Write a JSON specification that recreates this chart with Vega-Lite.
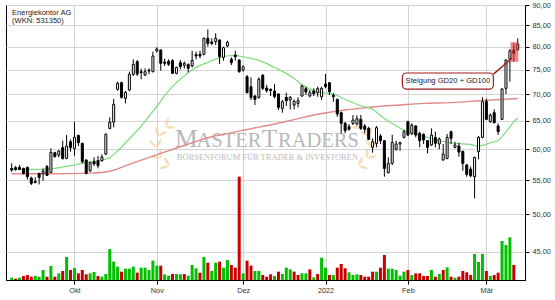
{
"$schema": "https://vega.github.io/schema/vega-lite/v6.json",
"width": 519, "height": 275,
"autosize": {"type": "none"},
"padding": {"left": 6, "top": 5, "right": 30, "bottom": 20},
"background": "white",
"config": {
  "view": {"stroke": "#000", "strokeWidth": 1},
  "axis": {"labelFont": "Liberation Sans", "labelFontSize": 7.3, "labelColor": "#333", "gridColor": "#d4d4d4", "gridWidth": 1, "tickColor": "#000", "tickSize": 4, "domainColor": "#000", "title": null, "labelFlush": false, "labelBound": false, "labelOverlap": false}
},
"datasets": {
"k": [
{"i":0,"o":56.85,"h":57.66,"l":56.32,"c":56.58,"v":7,"vd":"up"},
{"i":1,"o":56.97,"h":57.24,"l":56.48,"c":56.69,"v":4,"vd":"down"},
{"i":2,"o":57.02,"h":57.40,"l":56.58,"c":56.69,"v":7,"vd":"up"},
{"i":3,"o":56.85,"h":56.96,"l":55.9,"c":56.06,"v":12,"vd":"down"},
{"i":4,"o":57.02,"h":57.13,"l":55.12,"c":55.54,"v":15,"vd":"down"},
{"i":5,"o":55.33,"h":55.54,"l":54.25,"c":54.51,"v":10,"vd":"down"},
{"i":6,"o":54.8,"h":55.43,"l":54.51,"c":54.65,"v":12,"vd":"up"},
{"i":7,"o":56.06,"h":56.16,"l":54.35,"c":55.43,"v":10,"vd":"up"},
{"i":8,"o":56.06,"h":56.85,"l":54.92,"c":56.42,"v":30,"vd":"up"},
{"i":9,"o":57.13,"h":57.40,"l":55.64,"c":55.74,"v":10,"vd":"down"},
{"i":10,"o":56.2,"h":60.15,"l":56.16,"c":59.47,"v":42,"vd":"up"},
{"i":11,"o":59.41,"h":59.58,"l":58.64,"c":58.75,"v":10,"vd":"down"},
{"i":12,"o":59.02,"h":59.87,"l":58.64,"c":59.70,"v":20,"vd":"up"},
{"i":13,"o":60.26,"h":61.46,"l":58.32,"c":58.42,"v":27,"vd":"down"},
{"i":14,"o":58.48,"h":62.44,"l":58.32,"c":60.54,"v":69,"vd":"up"},
{"i":15,"o":61.28,"h":61.69,"l":59.58,"c":60.26,"v":30,"vd":"down"},
{"i":16,"o":60.15,"h":64.82,"l":58.91,"c":62.03,"v":36,"vd":"up"},
{"i":17,"o":62.38,"h":62.5,"l":60.54,"c":61.11,"v":20,"vd":"down"},
{"i":18,"o":61.0,"h":61.11,"l":57.66,"c":57.94,"v":30,"vd":"down"},
{"i":19,"o":58.21,"h":58.32,"l":55.9,"c":56.06,"v":17,"vd":"down"},
{"i":20,"o":56.48,"h":57.94,"l":56.26,"c":57.77,"v":20,"vd":"up"},
{"i":21,"o":57.94,"h":58.64,"l":57.24,"c":57.56,"v":24,"vd":"up"},
{"i":22,"o":58.1,"h":58.86,"l":56.85,"c":57.29,"v":12,"vd":"down"},
{"i":23,"o":58.1,"h":59.13,"l":57.94,"c":58.7,"v":10,"vd":"up"},
{"i":24,"o":59.19,"h":62.74,"l":59.02,"c":62.56,"v":18,"vd":"up"},
{"i":25,"o":63.62,"h":65.62,"l":63.45,"c":64.76,"v":93,"vd":"up"},
{"i":26,"o":64.76,"h":69.09,"l":63.8,"c":68.06,"v":55,"vd":"up"},
{"i":27,"o":71.0,"h":72.55,"l":70.74,"c":72.21,"v":40,"vd":"up"},
{"i":28,"o":72.35,"h":72.55,"l":69.16,"c":69.42,"v":25,"vd":"down"},
{"i":29,"o":69.22,"h":70.67,"l":68.25,"c":70.41,"v":34,"vd":"up"},
{"i":30,"o":70.87,"h":74.61,"l":70.61,"c":74.06,"v":34,"vd":"up"},
{"i":31,"o":74.06,"h":77.25,"l":73.71,"c":76.17,"v":40,"vd":"up"},
{"i":32,"o":76.75,"h":77.1,"l":73.71,"c":74.13,"v":22,"vd":"down"},
{"i":33,"o":74.61,"h":75.25,"l":73.03,"c":74.41,"v":37,"vd":"up"},
{"i":34,"o":73.92,"h":75.32,"l":73.71,"c":74.61,"v":37,"vd":"up"},
{"i":35,"o":74.75,"h":75.32,"l":74.13,"c":74.96,"v":30,"vd":"up"},
{"i":36,"o":74.61,"h":78.93,"l":74.48,"c":77.98,"v":58,"vd":"up"},
{"i":37,"o":79.08,"h":79.9,"l":78.78,"c":79.52,"v":43,"vd":"up"},
{"i":38,"o":79.3,"h":79.45,"l":74.82,"c":76.39,"v":43,"vd":"down"},
{"i":39,"o":76.67,"h":77.39,"l":75.82,"c":76.39,"v":17,"vd":"up"},
{"i":40,"o":76.81,"h":77.25,"l":75.82,"c":76.17,"v":13,"vd":"up"},
{"i":41,"o":76.96,"h":77.25,"l":74.13,"c":74.27,"v":18,"vd":"down"},
{"i":42,"o":74.27,"h":75.67,"l":74.06,"c":75.53,"v":18,"vd":"up"},
{"i":43,"o":76.53,"h":77.1,"l":75.1,"c":75.67,"v":17,"vd":"up"},
{"i":44,"o":75.96,"h":76.81,"l":75.25,"c":76.39,"v":18,"vd":"down"},
{"i":45,"o":76.1,"h":76.39,"l":74.48,"c":75.32,"v":13,"vd":"up"},
{"i":46,"o":75.82,"h":79.15,"l":75.53,"c":77.03,"v":45,"vd":"up"},
{"i":47,"o":78.27,"h":78.93,"l":77.25,"c":77.98,"v":35,"vd":"up"},
{"i":48,"o":78.34,"h":79.15,"l":77.47,"c":77.98,"v":22,"vd":"down"},
{"i":49,"o":78.34,"h":82.18,"l":78.12,"c":81.95,"v":69,"vd":"up"},
{"i":50,"o":81.95,"h":84.05,"l":80.05,"c":80.8,"v":52,"vd":"down"},
{"i":51,"o":81.1,"h":81.95,"l":80.42,"c":80.8,"v":27,"vd":"up"},
{"i":52,"o":81.18,"h":83.11,"l":80.42,"c":81.95,"v":52,"vd":"up"},
{"i":53,"o":81.56,"h":81.72,"l":76.24,"c":77.83,"v":55,"vd":"down"},
{"i":54,"o":77.69,"h":80.05,"l":76.96,"c":79.82,"v":37,"vd":"up"},
{"i":55,"o":80.2,"h":81.41,"l":79.9,"c":81.03,"v":60,"vd":"up"},
{"i":56,"o":77.25,"h":77.69,"l":76.03,"c":76.53,"v":45,"vd":"down"},
{"i":57,"o":78.2,"h":79.15,"l":76.96,"c":77.83,"v":37,"vd":"down"},
{"i":58,"o":77.1,"h":77.25,"l":74.41,"c":74.61,"v":310,"vd":"down"},
{"i":59,"o":74.96,"h":75.96,"l":74.61,"c":75.67,"v":20,"vd":"up"},
{"i":60,"o":73.57,"h":73.92,"l":70.21,"c":70.34,"v":58,"vd":"down"},
{"i":61,"o":71.53,"h":73.44,"l":68.9,"c":69.42,"v":43,"vd":"down"},
{"i":62,"o":69.68,"h":69.88,"l":67.93,"c":69.03,"v":27,"vd":"up"},
{"i":63,"o":69.42,"h":73.44,"l":69.16,"c":73.03,"v":27,"vd":"up"},
{"i":64,"o":73.85,"h":74.13,"l":70.87,"c":71.2,"v":15,"vd":"down"},
{"i":65,"o":71.27,"h":71.87,"l":70.34,"c":70.74,"v":10,"vd":"down"},
{"i":66,"o":71.0,"h":71.2,"l":69.68,"c":70.74,"v":17,"vd":"down"},
{"i":67,"o":70.67,"h":72.07,"l":69.22,"c":69.55,"v":12,"vd":"up"},
{"i":68,"o":70.08,"h":70.21,"l":66.99,"c":67.49,"v":25,"vd":"down"},
{"i":69,"o":67.3,"h":68.9,"l":66.49,"c":68.57,"v":18,"vd":"up"},
{"i":70,"o":69.42,"h":70.34,"l":67.74,"c":68.77,"v":37,"vd":"up"},
{"i":71,"o":68.9,"h":69.68,"l":67.11,"c":69.42,"v":32,"vd":"up"},
{"i":72,"o":67.93,"h":69.03,"l":67.11,"c":68.64,"v":25,"vd":"down"},
{"i":73,"o":68.25,"h":69.42,"l":67.49,"c":68.77,"v":15,"vd":"down"},
{"i":74,"o":69.68,"h":71.94,"l":69.55,"c":71.67,"v":20,"vd":"up"},
{"i":75,"o":71.13,"h":71.53,"l":69.88,"c":70.47,"v":20,"vd":"up"},
{"i":76,"o":69.68,"h":70.87,"l":69.42,"c":70.34,"v":32,"vd":"down"},
{"i":77,"o":70.67,"h":71.2,"l":69.68,"c":70.14,"v":8,"vd":"up"},
{"i":78,"o":70.34,"h":71.53,"l":69.55,"c":71.13,"v":18,"vd":"down"},
{"i":79,"o":69.55,"h":71.53,"l":68.9,"c":71.2,"v":67,"vd":"up"},
{"i":80,"o":72.07,"h":74.13,"l":71.2,"c":71.53,"v":37,"vd":"up"},
{"i":81,"o":72.35,"h":72.48,"l":69.88,"c":70.54,"v":15,"vd":"down"},
{"i":82,"o":69.81,"h":70.21,"l":68.57,"c":69.55,"v":15,"vd":"up"},
{"i":83,"o":69.03,"h":69.16,"l":65.74,"c":66.24,"v":37,"vd":"down"},
{"i":84,"o":66.49,"h":66.68,"l":62.74,"c":64.52,"v":48,"vd":"down"},
{"i":85,"o":64.52,"h":64.82,"l":62.74,"c":63.21,"v":35,"vd":"down"},
{"i":86,"o":63.92,"h":64.4,"l":63.21,"c":63.45,"v":23,"vd":"up"},
{"i":87,"o":64.52,"h":66.05,"l":64.22,"c":65.13,"v":15,"vd":"up"},
{"i":88,"o":64.4,"h":65.99,"l":64.16,"c":65.37,"v":17,"vd":"up"},
{"i":89,"o":65.25,"h":66.05,"l":63.33,"c":63.62,"v":15,"vd":"down"},
{"i":90,"o":64.04,"h":64.4,"l":62.74,"c":63.45,"v":10,"vd":"down"},
{"i":91,"o":63.62,"h":63.92,"l":61.57,"c":61.69,"v":10,"vd":"down"},
{"i":92,"o":60.32,"h":61.86,"l":59.41,"c":61.28,"v":25,"vd":"down"},
{"i":93,"o":61.0,"h":64.04,"l":60.32,"c":63.74,"v":25,"vd":"up"},
{"i":94,"o":62.27,"h":62.62,"l":60.89,"c":61.46,"v":37,"vd":"down"},
{"i":95,"o":61.46,"h":61.57,"l":55.54,"c":56.85,"v":75,"vd":"down"},
{"i":96,"o":56.16,"h":58.64,"l":56.06,"c":57.66,"v":34,"vd":"up"},
{"i":97,"o":57.66,"h":62.5,"l":57.4,"c":61.17,"v":34,"vd":"up"},
{"i":98,"o":59.98,"h":61.46,"l":59.75,"c":60.89,"v":30,"vd":"up"},
{"i":99,"o":60.89,"h":61.28,"l":59.75,"c":61.11,"v":13,"vd":"up"},
{"i":100,"o":62.03,"h":63.33,"l":61.86,"c":63.03,"v":25,"vd":"up"},
{"i":101,"o":64.82,"h":65.0,"l":62.27,"c":62.44,"v":30,"vd":"down"},
{"i":102,"o":62.74,"h":64.52,"l":62.44,"c":64.22,"v":15,"vd":"up"},
{"i":103,"o":64.04,"h":64.22,"l":62.03,"c":62.44,"v":20,"vd":"down"},
{"i":104,"o":62.74,"h":63.03,"l":60.32,"c":61.46,"v":20,"vd":"down"},
{"i":105,"o":62.56,"h":62.74,"l":60.89,"c":61.57,"v":12,"vd":"down"},
{"i":106,"o":61.46,"h":61.57,"l":59.3,"c":60.32,"v":12,"vd":"down"},
{"i":107,"o":60.72,"h":63.62,"l":60.54,"c":62.44,"v":30,"vd":"up"},
{"i":108,"o":62.03,"h":63.03,"l":60.32,"c":61.0,"v":10,"vd":"down"},
{"i":109,"o":60.89,"h":62.03,"l":59.98,"c":61.75,"v":18,"vd":"up"},
{"i":110,"o":58.21,"h":60.89,"l":58.1,"c":59.19,"v":30,"vd":"down"},
{"i":111,"o":58.48,"h":62.62,"l":58.32,"c":62.03,"v":38,"vd":"up"},
{"i":112,"o":63.03,"h":63.21,"l":60.89,"c":61.86,"v":10,"vd":"down"},
{"i":113,"o":60.32,"h":61.28,"l":60.15,"c":60.72,"v":7,"vd":"up"},
{"i":114,"o":60.54,"h":61.11,"l":58.75,"c":59.52,"v":10,"vd":"down"},
{"i":115,"o":59.64,"h":59.75,"l":56.48,"c":57.66,"v":27,"vd":"down"},
{"i":116,"o":57.4,"h":57.56,"l":55.54,"c":55.9,"v":23,"vd":"down"},
{"i":117,"o":56.74,"h":57.13,"l":55.43,"c":55.69,"v":15,"vd":"down"},
{"i":118,"o":55.54,"h":58.75,"l":52.25,"c":58.64,"v":78,"vd":"up"},
{"i":119,"o":59.58,"h":62.27,"l":58.32,"c":62.03,"v":54,"vd":"up"},
{"i":120,"o":62.03,"h":69.42,"l":61.86,"c":68.57,"v":78,"vd":"up"},
{"i":121,"o":68.64,"h":69.16,"l":65.13,"c":65.25,"v":27,"vd":"down"},
{"i":122,"o":64.82,"h":66.36,"l":64.64,"c":66.05,"v":12,"vd":"up"},
{"i":123,"o":66.49,"h":67.11,"l":64.52,"c":64.64,"v":15,"vd":"down"},
{"i":124,"o":64.04,"h":64.52,"l":62.44,"c":63.03,"v":22,"vd":"down"},
{"i":125,"o":65.25,"h":71.2,"l":65.13,"c":71.07,"v":117,"vd":"up"},
{"i":126,"o":71.2,"h":77.25,"l":70.08,"c":77.1,"v":105,"vd":"up"},
{"i":127,"o":77.3,"h":79.5,"l":72.55,"c":79.1,"v":128,"vd":"up"},
{"i":128,"o":79.3,"h":80.8,"l":76.74,"c":78.56,"v":45,"vd":"down"},
{"i":129,"o":79.4,"h":81.95,"l":79.15,"c":80.65,"v":null,"vd":"up"}
],
"gd20": [
{"i":0,"v":56.7},{"i":8,"v":56.7},{"i":15,"v":57.3},{"i":19,"v":57.8},{"i":23,"v":58.2},{"i":25,"v":58.6},{"i":27,"v":59.7},{"i":30,"v":61.8},{"i":33,"v":64.0},{"i":37,"v":67.7},{"i":41,"v":71.6},{"i":44,"v":73.7},{"i":46,"v":75.0},{"i":50,"v":76.6},{"i":52,"v":77.3},{"i":55,"v":78.0},{"i":57,"v":78.1},{"i":59,"v":77.8},{"i":63,"v":77.0},{"i":67,"v":75.5},{"i":72,"v":73.2},{"i":74,"v":71.9},{"i":76,"v":71.1},{"i":78,"v":70.5},{"i":82,"v":70.1},{"i":85,"v":69.0},{"i":89,"v":67.8},{"i":92,"v":67.1},{"i":95,"v":65.4},{"i":97,"v":64.5},{"i":100,"v":63.3},{"i":103,"v":62.6},{"i":105,"v":62.2},{"i":108,"v":61.6},{"i":113,"v":61.0},{"i":117,"v":60.8},{"i":119,"v":60.5},{"i":122,"v":61.1},{"i":124,"v":61.5},{"i":126,"v":63.0},{"i":128,"v":64.8},{"i":129,"v":65.5}
],
"gd100": [
{"i":0,"v":56.0},{"i":10,"v":56.0},{"i":20,"v":56.1},{"i":25,"v":56.4},{"i":30,"v":57.5},{"i":34,"v":58.4},{"i":38,"v":59.3},{"i":42,"v":60.2},{"i":46,"v":61.1},{"i":51,"v":62.15},{"i":55,"v":62.7},{"i":59,"v":63.3},{"i":67,"v":64.4},{"i":73,"v":65.4},{"i":78,"v":66.2},{"i":83,"v":66.8},{"i":85,"v":67.0},{"i":90,"v":67.4},{"i":94,"v":67.7},{"i":100,"v":68.0},{"i":105,"v":68.25},{"i":112,"v":68.4},{"i":120,"v":68.8},{"i":129,"v":69.2}
]
},
"resolve": {"scale": {"y": "independent"}},
"layer": [
  {
    "data": {"name": "k"},
    "mark": {"type": "bar", "size": 3},
    "encoding": {
      "x": {"field": "i", "type": "quantitative",
            "scale": {"domain": [-0.175, 129.575], "nice": false, "zero": false},
            "axis": {"values": [16, 37, 59, 80, 101, 121], "grid": true, "labelPadding": 2,
                     "labelExpr": "datum.value == 16 ? 'Okt' : datum.value == 37 ? 'Nov' : datum.value == 59 ? 'Dez' : datum.value == 80 ? '2022' : datum.value == 101 ? 'Feb' : 'Mär'"}},
      "y": {"field": "v", "type": "quantitative", "scale": {"domain": [0, 825], "nice": false}, "axis": null},
      "fill": {"field": "vd", "type": "nominal", "scale": {"domain": ["up", "down"], "range": ["#00c000", "#c80000"]}, "legend": null}
    }
  },
  {
    "layer": [
      {
        "data": {"values": [{}]},
        "mark": {"type": "point", "filled": true, "fill": "#f2c48c", "opacity": 0.6, "strokeWidth": 0, "size": 3640,
                 "shape": "M0.033,0.68Q-0.156,0.623,-0.297,0.76Q-0.108,0.817,0.033,0.68ZM0.033,0.68Q0.048,0.484,-0.118,0.375Q-0.132,0.572,0.033,0.68ZM-0.264,0.43Q-0.399,0.286,-0.59,0.334Q-0.455,0.478,-0.264,0.43ZM-0.264,0.43Q-0.153,0.266,-0.242,0.091Q-0.353,0.254,-0.264,0.43ZM-0.397,0.065Q-0.442,-0.127,-0.632,-0.181Q-0.586,0.011,-0.397,0.065ZM-0.397,0.065Q-0.22,-0.022,-0.209,-0.218Q-0.386,-0.132,-0.397,0.065ZM-0.33,-0.317Q-0.273,-0.506,-0.41,-0.647Q-0.467,-0.458,-0.33,-0.317ZM-0.33,-0.317Q-0.134,-0.302,-0.025,-0.468Q-0.222,-0.482,-0.33,-0.317ZM-0.08,-0.614Q0.064,-0.749,0.016,-0.94Q-0.128,-0.805,-0.08,-0.614ZM-0.08,-0.614Q0.084,-0.503,0.259,-0.592Q0.096,-0.703,-0.08,-0.614Z"},
        "encoding": {"x": {"datum": 39.85, "type": "quantitative"}, "y": {"datum": 60.64, "type": "quantitative", "scale": {"type": "log", "domain": [41.54, 90], "nice": false, "zero": false},
          "axis": {"orient": "right", "values": [45, 50, 55, 60, 65, 70, 75, 80, 85, 90], "grid": true, "labelPadding": 3,
                   "labelExpr": "replace(format(datum.value, '.2f'), '.', ',')"}}}
      },
      {
        "data": {"values": [{}]},
        "mark": {"type": "point", "filled": true, "fill": "#f2c48c", "opacity": 0.6, "strokeWidth": 0, "size": 3640,
                 "shape": "M-0.033,0.68Q0.156,0.623,0.297,0.76Q0.108,0.817,-0.033,0.68ZM-0.033,0.68Q-0.048,0.484,0.118,0.375Q0.132,0.572,-0.033,0.68ZM0.264,0.43Q0.399,0.286,0.59,0.334Q0.455,0.478,0.264,0.43ZM0.264,0.43Q0.153,0.266,0.242,0.091Q0.353,0.254,0.264,0.43ZM0.397,0.065Q0.442,-0.127,0.632,-0.181Q0.586,0.011,0.397,0.065ZM0.397,0.065Q0.22,-0.022,0.209,-0.218Q0.386,-0.132,0.397,0.065ZM0.33,-0.317Q0.273,-0.506,0.41,-0.647Q0.467,-0.458,0.33,-0.317ZM0.33,-0.317Q0.134,-0.302,0.025,-0.468Q0.222,-0.482,0.33,-0.317ZM0.08,-0.614Q-0.064,-0.749,-0.016,-0.94Q0.128,-0.805,0.08,-0.614ZM0.08,-0.614Q-0.084,-0.503,-0.259,-0.592Q-0.096,-0.703,0.08,-0.614Z"},
        "encoding": {"x": {"datum": 88.6, "type": "quantitative"}, "y": {"datum": 60.64, "type": "quantitative"}}
      },
      {
        "data": {"values": [{}]},
        "mark": {"type": "text", "text": "M", "font": "Liberation Serif", "fontSize": 25.5, "align": "left", "baseline": "alphabetic", "color": "#b8b8b8"},
        "encoding": {"x": {"datum": 41.65, "type": "quantitative"}, "y": {"datum": 60.42, "type": "quantitative"}}
      },
      {
        "data": {"values": [{}]},
        "mark": {"type": "text", "text": "ASTER", "font": "Liberation Serif", "fontSize": 20.5, "align": "left", "baseline": "alphabetic", "color": "#b8b8b8"},
        "encoding": {"x": {"datum": 47.1, "type": "quantitative"}, "y": {"datum": 60.42, "type": "quantitative"}}
      },
      {
        "data": {"values": [{}]},
        "mark": {"type": "text", "text": "T", "font": "Liberation Serif", "fontSize": 25.5, "align": "left", "baseline": "alphabetic", "color": "#b8b8b8"},
        "encoding": {"x": {"datum": 63.75, "type": "quantitative"}, "y": {"datum": 60.42, "type": "quantitative"}}
      },
      {
        "data": {"values": [{}]},
        "mark": {"type": "text", "text": "RADERS", "font": "Liberation Serif", "fontSize": 20.5, "align": "left", "baseline": "alphabetic", "color": "#b8b8b8"},
        "encoding": {"x": {"datum": 67.9, "type": "quantitative"}, "y": {"datum": 60.42, "type": "quantitative"}}
      },
      {
        "data": {"values": [{}]},
        "mark": {"type": "text", "text": "BÖRSENFORUM FÜR TRADER & INVESTOREN", "font": "Liberation Serif", "fontSize": 8.45, "align": "left", "baseline": "alphabetic", "color": "#bcbcbc"},
        "encoding": {"x": {"datum": 42.1, "type": "quantitative"}, "y": {"datum": 58.2, "type": "quantitative"}}
      },
      {
        "data": {"name": "gd100"},
        "mark": {"type": "line", "color": "#e38a8a", "strokeWidth": 1.4, "interpolate": "monotone"},
        "encoding": {"x": {"field": "i", "type": "quantitative"}, "y": {"field": "v", "type": "quantitative"}}
      },
      {
        "data": {"name": "gd20"},
        "mark": {"type": "line", "color": "#84dc84", "strokeWidth": 1.3, "interpolate": "monotone"},
        "encoding": {"x": {"field": "i", "type": "quantitative"}, "y": {"field": "v", "type": "quantitative"}}
      },
      {
        "data": {"name": "k"},
        "mark": {"type": "rule", "color": "#000", "strokeWidth": 1},
        "encoding": {"x": {"field": "i", "type": "quantitative"}, "y": {"field": "l", "type": "quantitative"}, "y2": {"field": "h"}}
      },
      {
        "data": {"name": "k"},
        "mark": {"type": "bar", "size": 2, "stroke": "#000", "strokeWidth": 1},
        "encoding": {
          "x": {"field": "i", "type": "quantitative"},
          "y": {"field": "o", "type": "quantitative"}, "y2": {"field": "c"},
          "fill": {"condition": {"test": "datum.c >= datum.o", "value": "#ffffff"}, "value": "#000000"}
        }
      },
      {
        "data": {"values": [{}]},
        "mark": {"type": "rect", "fill": "#e83030", "opacity": 0.6},
        "encoding": {"x": {"datum": 127.2, "type": "quantitative"}, "x2": {"datum": 129.15}, "y": {"datum": 81.06, "type": "quantitative"}, "y2": {"datum": 76.72}}
      },
      {
        "data": {"values": [{}]},
        "mark": {"type": "rule", "color": "#a01c1c", "strokeWidth": 1.4},
        "encoding": {"x": {"datum": 122.8, "type": "quantitative"}, "x2": {"datum": 127.5}, "y": {"datum": 74.1, "type": "quantitative"}, "y2": {"datum": 77.47}}
      },
      {
        "data": {"values": [{}]},
        "mark": {"type": "rect", "fill": "#ffffff", "stroke": "#a01c1c", "strokeWidth": 1.2, "cornerRadius": 4},
        "encoding": {"x": {"datum": 99.6, "type": "quantitative"}, "x2": {"datum": 122.8}, "y": {"datum": 74.34, "type": "quantitative"}, "y2": {"datum": 71.06}}
      },
      {
        "data": {"values": [{}]},
        "mark": {"type": "text", "text": "Steigung GD20 + GD100", "font": "Liberation Sans", "fontSize": 7.6, "align": "center", "baseline": "middle", "color": "#222"},
        "encoding": {"x": {"datum": 111.2, "type": "quantitative"}, "y": {"datum": 72.68, "type": "quantitative"}}
      },
      {
        "data": {"values": [{}]},
        "mark": {"type": "text", "text": "Energiekontor AG", "font": "Liberation Sans", "fontSize": 7.5, "align": "left", "baseline": "alphabetic", "color": "#222"},
        "encoding": {"x": {"datum": 0.1, "type": "quantitative"}, "y": {"datum": 87.5, "type": "quantitative"}}
      },
      {
        "data": {"values": [{}]},
        "mark": {"type": "text", "text": "(WKN: 531350)", "font": "Liberation Sans", "fontSize": 7.5, "align": "left", "baseline": "alphabetic", "color": "#222"},
        "encoding": {"x": {"datum": 0.1, "type": "quantitative"}, "y": {"datum": 85.63, "type": "quantitative"}}
      }
    ]
  }
]
}
